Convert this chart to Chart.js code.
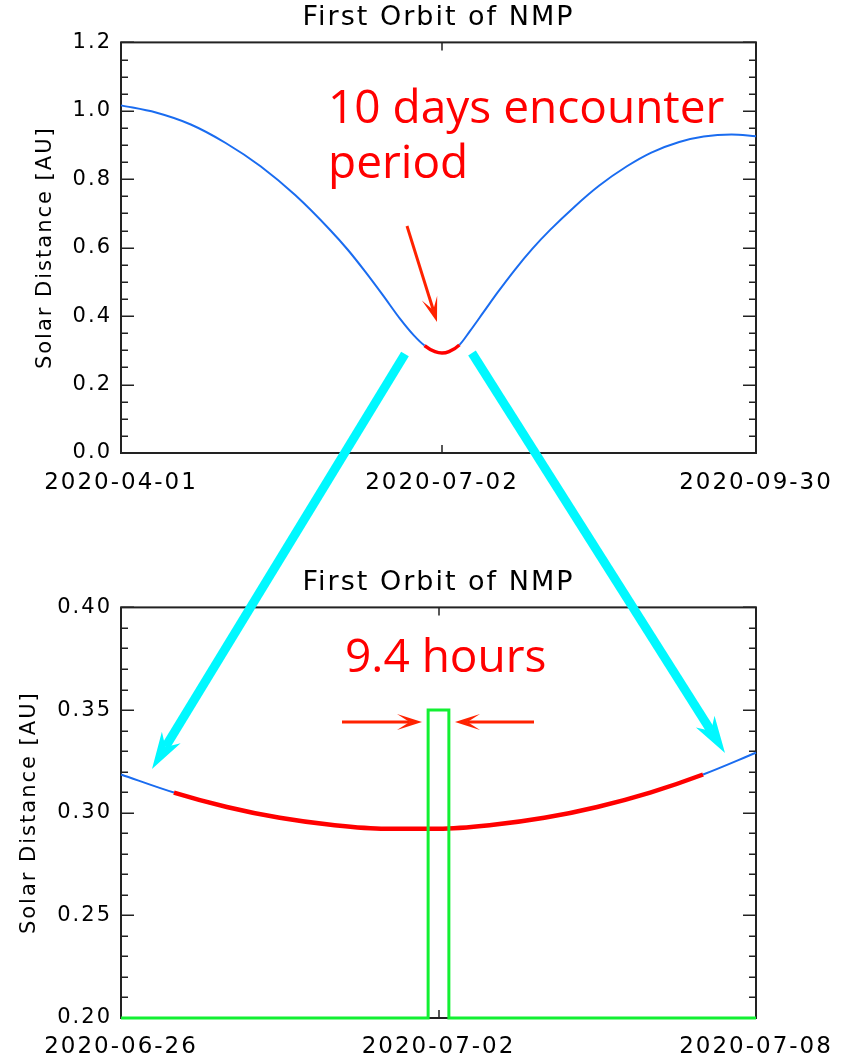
<!DOCTYPE html>
<html>
<head>
<meta charset="utf-8">
<title>First Orbit of NMP</title>
<script src="https://cdn.jsdelivr.net/npm/chart.js@4.4.0/dist/chart.umd.min.js"></script>
<style>
  body { margin: 0; background: #fff; }
  #page { position: relative; width: 850px; height: 1055px; overflow: hidden; }
  #topChart { position: absolute; left: 0; top: 0; }
  #bottomChart { position: absolute; left: 0; top: 555px; }
  #overlay { position: absolute; left: 0; top: 0; }
</style>
</head>
<body>
<div id="page">
  <canvas id="topChart" width="850" height="500"></canvas>
  <canvas id="bottomChart" width="850" height="500"></canvas>
  <svg id="overlay" width="850" height="1055">
    <g id="arrows"></g>
    <g font-family="Open Sans" font-size="46" fill="#ff0000">
      <text x="328" y="123">10 days encounter</text>
      <text x="328" y="178">period</text>
      <text x="345" y="672">9.4 hours</text>
    </g>
  </svg>
</div>
<script>
// top panel: days since 2020-04-01
const topDays = [0, 10, 20, 30, 40, 50, 60, 65, 70, 75, 80, 84, 87, 90, 92, 94, 97, 100, 104, 108, 113, 118, 123, 130, 137, 145, 152, 160, 167, 175, 182];
const topDist = [1.016, 0.995, 0.960, 0.906, 0.838, 0.753, 0.651, 0.594, 0.530, 0.462, 0.392, 0.343, 0.314, 0.296, 0.292, 0.296, 0.316, 0.356, 0.413, 0.470, 0.537, 0.598, 0.652, 0.720, 0.781, 0.838, 0.878, 0.909, 0.925, 0.931, 0.926];
const topEncounter = [87, 97];
const topTickDays = [0, 92, 182];
const topTickLabels = ['2020-04-01', '2020-07-02', '2020-09-30'];
const topYTicks = [0.0, 0.2, 0.4, 0.6, 0.8, 1.0, 1.2];
const topYLabels = ['0.0', '0.2', '0.4', '0.6', '0.8', '1.0', '1.2'];

// bottom panel: days since 2020-06-26
const bottomDays = [0, 1, 2, 3, 4, 5, 6, 7, 8, 9, 10, 11, 12];
const bottomDist = [0.3186, 0.3098, 0.3028, 0.2975, 0.2940, 0.2922, 0.2922, 0.2940, 0.2975, 0.3028, 0.3098, 0.3186, 0.3292];
const bottomEncounter = [1, 11];
const windowDays = [0, 5.804, 5.804, 6.196, 6.196, 12];
const windowLevel = [0.20, 0.20, 0.35, 0.35, 0.20, 0.20];
const bottomTickDays = [0, 6, 12];
const bottomTickLabels = ['2020-06-26', '2020-07-02', '2020-07-08'];
const bottomYTicks = [0.20, 0.25, 0.30, 0.35, 0.40];
const bottomYLabels = ['0.20', '0.25', '0.30', '0.35', '0.40'];

// annotation arrows [x1, y1, x2, y2] in page pixels
const cyanArrows = [[405, 354, 152, 769], [472, 353, 725, 753]];
const redArrows = [[407, 226, 437, 322], [342, 722, 422, 722], [534, 722, 455, 722]];

const blue = '#1a6cf0';
const red = '#ff0000';
const green = '#12f032';
const axisFont = 'DejaVu Sans';

const frameTicks = {
    id: 'frameTicks',
    beforeLayout(chart) { chart.ctx.letterSpacing = '2px'; },
    beforeDraw(chart) { chart.ctx.letterSpacing = '2px'; },
    beforeDatasetsDraw(chart, args, opts) {
        const { ctx, chartArea: a, scales: { x, y } } = chart;
        ctx.save();
        ctx.strokeStyle = '#222';
        ctx.lineWidth = 2;
        ctx.strokeRect(a.left, a.top, a.right - a.left, a.bottom - a.top);
        ctx.lineWidth = 1.5;
        ctx.beginPath();
        const n = Math.round((y.max - y.min) / opts.minor);
        for (let i = 0; i <= n; i++) {
            const py = Math.round(y.getPixelForValue(y.min + i * opts.minor)) + 0.25;
            const len = i % opts.ratio === 0 ? 13 : 7;
            ctx.moveTo(a.left, py); ctx.lineTo(a.left + len, py);
            ctx.moveTo(a.right, py); ctx.lineTo(a.right - len, py);
        }
        opts.xMarks.forEach(d => {
            const px = Math.round(x.getPixelForValue(d));
            ctx.moveTo(px, a.bottom); ctx.lineTo(px, a.bottom - 8);
            ctx.moveTo(px, a.top); ctx.lineTo(px, a.top + 8);
        });
        ctx.stroke();
        ctx.restore();
    }
};

function makeChart(id, p) {
    const inRed = c => c.p0.parsed.x >= p.encounter[0] && c.p1.parsed.x <= p.encounter[1];
    const datasets = [];
    if (p.window) {
        datasets.push({
            data: p.window,
            borderColor: green,
            borderWidth: 3,
            tension: 0,
            pointRadius: 0,
            clip: 6
        });
    }
    datasets.push({
        data: p.days.map((d, i) => ({ x: d, y: p.dist[i] })),
        borderColor: blue,
        borderWidth: 2,
        cubicInterpolationMode: 'monotone',
        pointRadius: 0,
        clip: 6,
        segment: {
            borderColor: c => inRed(c) ? red : blue,
            borderWidth: c => inRed(c) ? p.redWidth : 2
        }
    });

    return new Chart(document.getElementById(id), {
        type: 'line',
        data: { datasets: datasets },
        plugins: [frameTicks],
        options: {
            responsive: false,
            animation: false,
            events: [],
            layout: { padding: { left: 0, right: 94, top: 0, bottom: 0 } },
            plugins: {
                legend: { display: false },
                tooltip: { enabled: false },
                title: {
                    display: true,
                    text: 'First Orbit of NMP',
                    fullSize: false,
                    color: '#000',
                    font: { family: axisFont, size: 27, weight: 'normal' },
                    padding: p.titlePad
                },
                frameTicks: { minor: p.minor, ratio: p.ratio, xMarks: [p.xTicks[1]] }
            },
            scales: {
                x: {
                    type: 'linear',
                    min: p.xTicks[0],
                    max: p.xTicks[2],
                    afterBuildTicks: s => { s.ticks = p.xTicks.map(v => ({ value: v })); },
                    afterFit: s => { s.height = p.xHeight; },
                    grid: { display: false, drawTicks: false },
                    border: { display: false },
                    ticks: {
                        autoSkip: false,
                        maxRotation: 0,
                        padding: p.xPad,
                        color: '#000',
                        font: { family: axisFont, size: 23 },
                        callback: (v, i) => p.xLabels[i]
                    }
                },
                y: {
                    min: p.yTicks[0],
                    max: p.yTicks[p.yTicks.length - 1],
                    afterBuildTicks: s => { s.ticks = p.yTicks.map(v => ({ value: v })); },
                    afterFit: s => { s.width = 121; },
                    grid: { display: false, drawTicks: false },
                    border: { display: false },
                    ticks: {
                        padding: 9,
                        color: '#000',
                        font: { family: axisFont, size: 21 },
                        callback: (v, i) => p.yLabels[i]
                    },
                    title: {
                        display: true,
                        text: 'Solar Distance [AU]',
                        color: '#000',
                        font: { family: axisFont, size: 21 },
                        padding: { top: p.yTitlePad, bottom: 0 }
                    }
                }
            }
        }
    });
}

makeChart('topChart', {
    days: topDays, dist: topDist, encounter: topEncounter, redWidth: 3.5,
    xTicks: topTickDays, xLabels: topTickLabels,
    yTicks: topYTicks, yLabels: topYLabels, minor: 0.05, ratio: 4,
    titlePad: { top: 2, bottom: 8 }, yTitlePad: 33, xHeight: 47, xPad: 16
});

makeChart('bottomChart', {
    days: bottomDays, dist: bottomDist, encounter: bottomEncounter, redWidth: 4.5,
    window: windowDays.map((d, i) => ({ x: d, y: windowLevel[i] })),
    xTicks: bottomTickDays, xLabels: bottomTickLabels,
    yTicks: bottomYTicks, yLabels: bottomYLabels, minor: 0.01, ratio: 5,
    titlePad: { top: 12, bottom: 8 }, yTitlePad: 17, xHeight: 37, xPad: 15
});

// annotation arrows
const svgNS = 'http://www.w3.org/2000/svg';
const arrowLayer = document.getElementById('arrows');

function drawArrow(seg, width, headLen, headHalf, notch, color) {
    const [x1, y1, x2, y2] = seg;
    const len = Math.hypot(x2 - x1, y2 - y1);
    const ux = (x2 - x1) / len, uy = (y2 - y1) / len;
    const bx = x2 - ux * headLen, by = y2 - uy * headLen;
    const nx = x2 - ux * headLen * notch, ny = y2 - uy * headLen * notch;

    const line = document.createElementNS(svgNS, 'line');
    line.setAttribute('x1', x1); line.setAttribute('y1', y1);
    line.setAttribute('x2', nx); line.setAttribute('y2', ny);
    line.setAttribute('stroke', color);
    line.setAttribute('stroke-width', width);
    arrowLayer.appendChild(line);

    const head = document.createElementNS(svgNS, 'polygon');
    const pts = [
        [x2, y2],
        [bx - uy * headHalf, by + ux * headHalf],
        [nx, ny],
        [bx + uy * headHalf, by - ux * headHalf]
    ];
    head.setAttribute('points', pts.map(q => q.join(',')).join(' '));
    head.setAttribute('fill', color);
    arrowLayer.appendChild(head);
}

cyanArrows.forEach(a => drawArrow(a, 9, 37, 11, 0.7, '#00f8ff'));
redArrows.forEach(a => drawArrow(a, 3, 25, 8, 0.5, '#ff2200'));
</script>
</body>
</html>
